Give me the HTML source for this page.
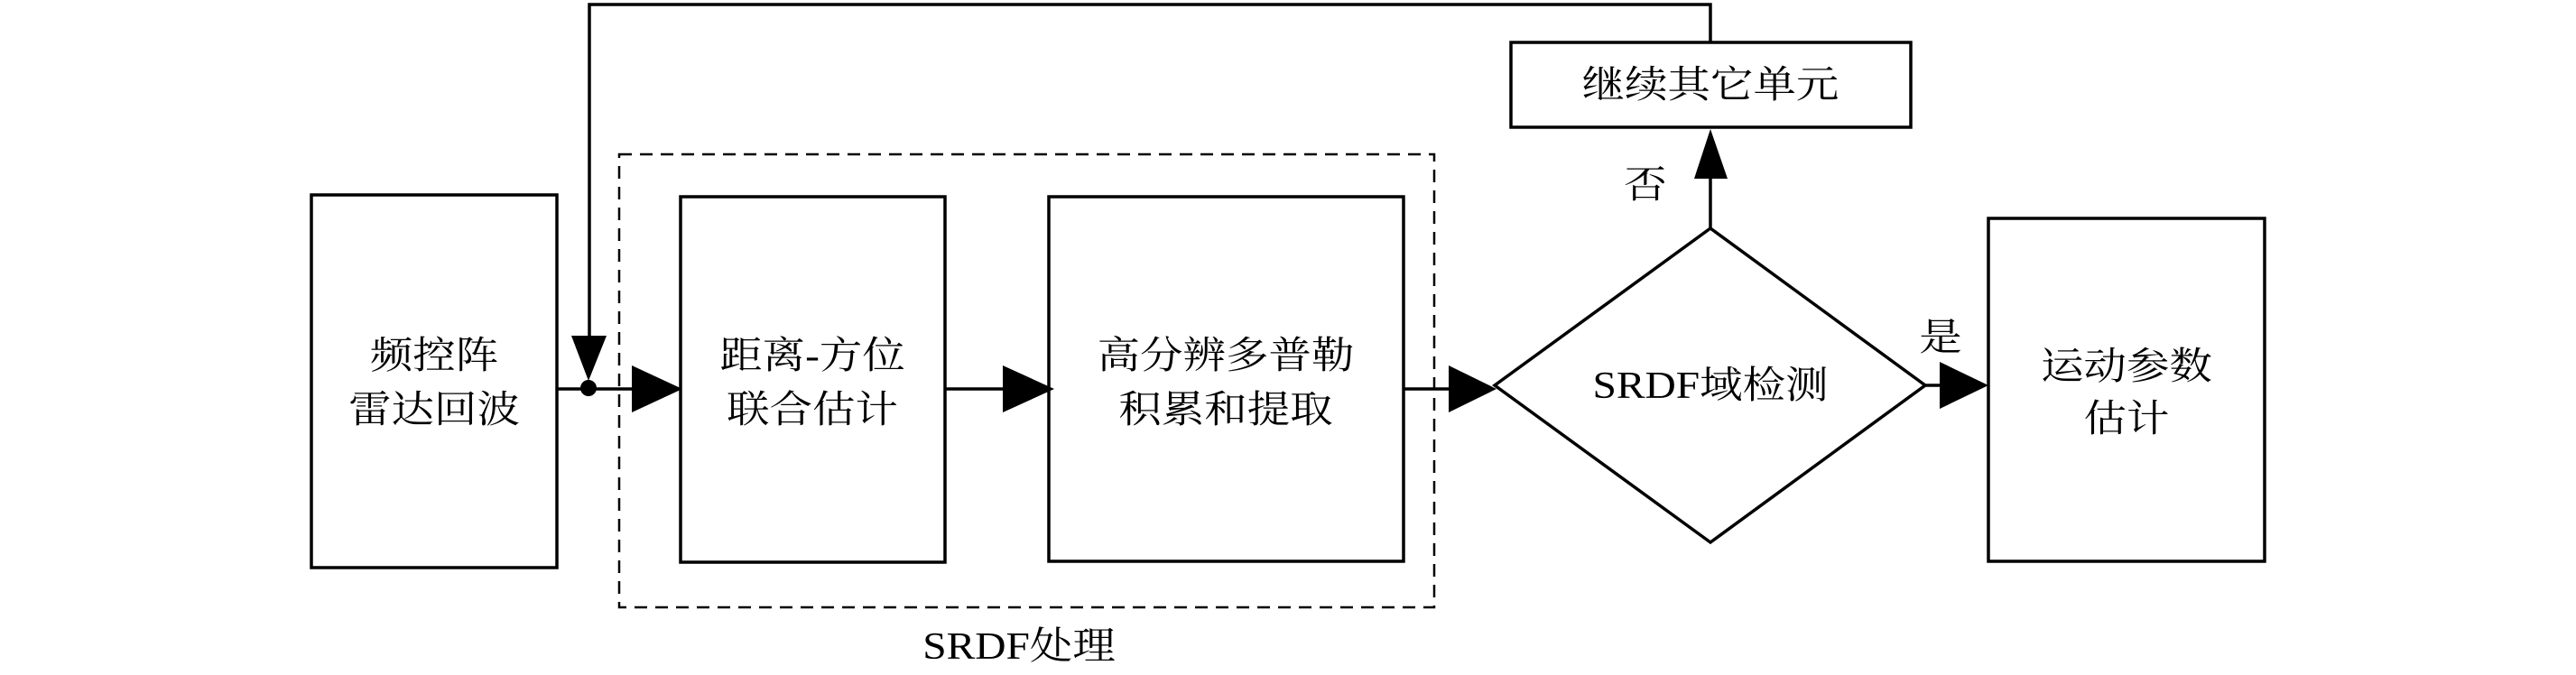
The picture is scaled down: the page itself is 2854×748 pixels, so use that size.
<!DOCTYPE html>
<html><head><meta charset="utf-8"><style>html,body{margin:0;padding:0;background:#fff}svg{display:block}</style></head>
<body>
<svg width="2854" height="748" viewBox="0 0 2854 748" xmlns="http://www.w3.org/2000/svg">
<g fill="none" stroke="#000" stroke-width="3.5">
<rect x="345" y="216" width="272" height="413"/>
<rect x="754" y="218" width="293" height="405"/>
<rect x="1162" y="218" width="393" height="404"/>
<rect x="2203" y="242" width="306" height="380"/>
<rect x="1674" y="47" width="443" height="94"/>
<rect x="686" y="171" width="903" height="502" stroke-dasharray="14,9" stroke-width="2.5"/>
<polygon points="1895,253 2133,427 1895,601 1656,427"/>
<polyline points="1895,47 1895,5 653,5 653,375"/>
<line x1="617" y1="431" x2="705" y2="431"/>
<line x1="1047" y1="431" x2="1115" y2="431"/>
<line x1="1555" y1="431" x2="1610" y2="431"/>
<line x1="2133" y1="427" x2="2152" y2="427"/>
<line x1="1895" y1="253" x2="1895" y2="195"/>
</g>
<g fill="#000">
<circle cx="652" cy="430" r="9"/>
<polygon points="633,372 672,372 652,422"/>
<polygon points="700,405 700,457 756,431"/>
<polygon points="1111,405 1111,457 1168,431"/>
<polygon points="1605,405 1605,457 1658,431"/>
<polygon points="2149,401 2149,453 2203,427"/>
<polygon points="1877,198 1914,198 1895,143"/>
</g>
<g font-family="Liberation Serif, Noto Serif CJK SC, serif" font-size="42" text-anchor="middle" fill="#000">
<g transform="translate(481,0) scale(1.13,1)"><text x="0" y="408">频控阵</text><text x="0" y="468">雷达回波</text></g>
<g transform="translate(900,0) scale(1.13,1)"><text x="0" y="408">距离-方位</text><text x="0" y="468">联合估计</text></g>
<g transform="translate(1358,0) scale(1.13,1)"><text x="0" y="408">高分辨多普勒</text><text x="0" y="468">积累和提取</text></g>
<g transform="translate(2356,0) scale(1.13,1)"><text x="0" y="420">运动参数</text><text x="0" y="478">估计</text></g>
<g transform="translate(1895,0) scale(1.13,1)"><text x="0" y="108">继续其它单元</text><text x="0" y="441">SRDF域检测</text></g>
<g transform="translate(1129,0) scale(1.13,1)"><text x="0" y="730">SRDF处理</text></g>
<g transform="translate(1823,0) scale(1.13,1)"><text x="0" y="219">否</text></g>
<g transform="translate(2150,0) scale(1.13,1)"><text x="0" y="388">是</text></g>
</g>
</svg>
</body></html>
